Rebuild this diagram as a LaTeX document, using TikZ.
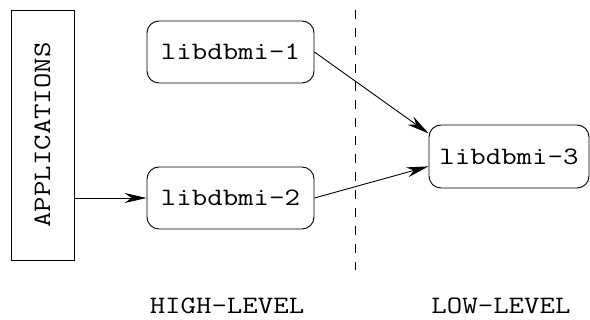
\documentclass[tikz,border=0pt]{standalone}
\usepackage{fontspec}
\setmonofont{Latin Modern Mono}[FakeStretch=1.2]
\usetikzlibrary{arrows.meta}
\tikzset{
  lib/.style={draw, line width=0.9pt, rounded corners=12pt, minimum width=167pt, minimum height=62pt, inner sep=0pt, font=\ttfamily\fontsize{25}{30}\selectfont},
  appbox/.style={draw, line width=0.9pt, minimum width=63pt, minimum height=250pt, inner sep=0pt},
  lbl/.style={font=\ttfamily\fontsize{25}{30}\selectfont, inner sep=0pt},
  conn/.style={line width=0.9pt, -{Stealth[length=22pt,width=10pt,inset=7pt]}},
  divider/.style={line width=0.9pt, dash pattern=on 9pt off 9pt}
}
\begin{document}
\begin{tikzpicture}[x=1pt,y=-1pt]
\useasboundingbox (0,0) rectangle (590,320);
\node[appbox] (app) at (42.5,135) {};
\node[lbl, rotate=90] (apptext) at (app.center) {APPLICATIONS};
\node[lib] (n1) at (230.5,52) {libdbmi-1};
\node[lib] (n2) at (230.5,198) {libdbmi-2};
\node[lib, minimum width=160pt, minimum height=63pt] (n3) at (509,156.5) {libdbmi-3};
\coordinate (dtop) at (355.5,10);
\coordinate (dbot) at (355.5,270);
\draw[divider] (dtop) -- (dbot);
\draw[conn] (app.east |- n2.west) -- (n2.west);
\draw[conn] (n1.east) -- (n3.164);
\draw[conn] (n2.east) -- (n3.187.5);
\node[lbl] (high) at (227,306) {HIGH-LEVEL};
\node[lbl] (low) at (501,306) {LOW-LEVEL};
\end{tikzpicture}
\end{document}
